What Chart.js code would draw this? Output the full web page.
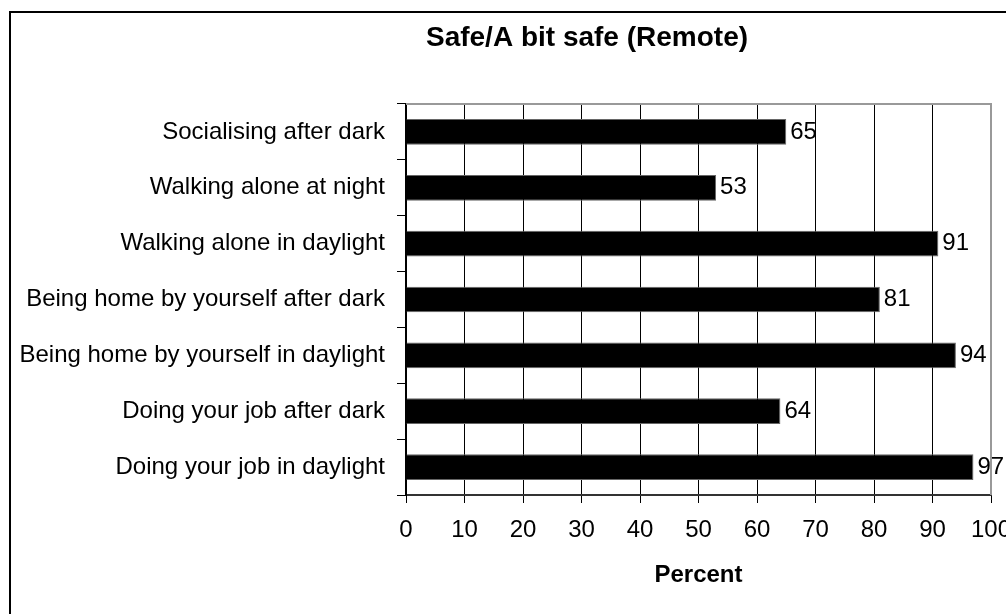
<!DOCTYPE html>
<html>
<head>
<meta charset="utf-8">
<script src="https://cdn.jsdelivr.net/npm/chart.js@4"></script>
<style>
  html, body { margin: 0; padding: 0; background: #fff; }
  #wrap { width: 1006px; height: 614px; }
</style>
</head>
<body>
<div id="wrap"><canvas id="chart_area" width="1006" height="614"></canvas></div>
<script>
// chart data
const categories = [
  'Socialising after dark',
  'Walking alone at night',
  'Walking alone in daylight',
  'Being home by yourself after dark',
  'Being home by yourself in daylight',
  'Doing your job after dark',
  'Doing your job in daylight'
];
const safeValues = [65, 53, 91, 81, 94, 64, 97];
const xTicks = [0, 10, 20, 30, 40, 50, 60, 70, 80, 90, 100];
const chartTitle = 'Safe/A bit safe (Remote)';
const xTitle = 'Percent';

const FONT = '"Liberation Sans", Arial, sans-serif';

// outer frame + title, drawn on canvas
const framePlugin = {
  id: 'frame',
  beforeDraw(chart) {
    const c = chart.ctx;
    c.save();
    c.fillStyle = '#fff';
    c.fillRect(0, 0, chart.width, chart.height);
    c.strokeStyle = '#000';
    c.lineWidth = 2;
    c.strokeRect(10, 12, 1200, 800);
    c.fillStyle = '#000';
    c.font = 'bold 28px ' + FONT;
    c.textAlign = 'center';
    c.textBaseline = 'middle';
    c.fillText(chartTitle, 587, 38);
    c.restore();
  },
  afterDatasetsDraw(chart) {
    const c = chart.ctx;
    const a = chart.chartArea;
    c.save();
    // gray top/right border of the plot
    c.strokeStyle = '#999';
    c.lineWidth = 2;
    c.beginPath();
    c.moveTo(a.left, a.top);
    c.lineTo(a.right, a.top);
    c.lineTo(a.right, a.bottom);
    c.stroke();
    // value labels
    c.fillStyle = '#000';
    c.font = '24px ' + FONT;
    c.textAlign = 'left';
    c.textBaseline = 'middle';
    chart.getDatasetMeta(0).data.forEach((bar, i) => {
      c.fillText(String(safeValues[i]), bar.x + 4, bar.y);
    });
    c.restore();
  }
};

const ctx = document.getElementById('chart_area').getContext('2d');
const myChart = new Chart(ctx, {
  type: 'bar',
  data: {
    labels: categories,
    datasets: [{
      label: 'Safe/A bit safe',
      data: safeValues,
      backgroundColor: '#000',
      borderColor: '#666',
      borderWidth: 1,
      barPercentage: 0.46,
      categoryPercentage: 1
    }]
  },
  options: {
    indexAxis: 'y',
    responsive: false,
    animation: false,
    layout: { padding: { top: 104, right: 15, left: 0, bottom: 0 } },
    plugins: {
      legend: { display: false },
      title: { display: false },
      tooltip: { enabled: false }
    },
    scales: {
      x: {
        min: 0,
        max: 100,
        afterBuildTicks(scale) {
          scale.ticks = xTicks.map(v => ({ value: v }));
        },
        afterFit(scale) {
          scale.height = 119;
          scale.paddingLeft = 0;
          scale.paddingRight = 0;
        },
        grid: { color: '#000', lineWidth: 1, tickLength: 8, drawOnChartArea: true },
        border: { display: true, color: '#333', width: 2 },
        ticks: { color: '#000', font: { family: FONT, size: 24 }, padding: 13, maxRotation: 0 },
        title: {
          display: true,
          text: xTitle,
          color: '#000',
          font: { family: FONT, size: 24, weight: 'bold' },
          padding: { top: 0, bottom: 24 }
        }
      },
      y: {
        afterFit(scale) {
          scale.width = 406;
          scale.paddingTop = 0;
          scale.paddingBottom = 0;
        },
        grid: { display: true, drawOnChartArea: false, offset: true, color: '#000', tickLength: 9 },
        border: { display: true, color: '#000', width: 2 },
        ticks: { color: '#000', font: { family: FONT, size: 24 }, padding: 12, autoSkip: false }
      }
    }
  },
  plugins: [framePlugin]
});
</script>
</body>
</html>
